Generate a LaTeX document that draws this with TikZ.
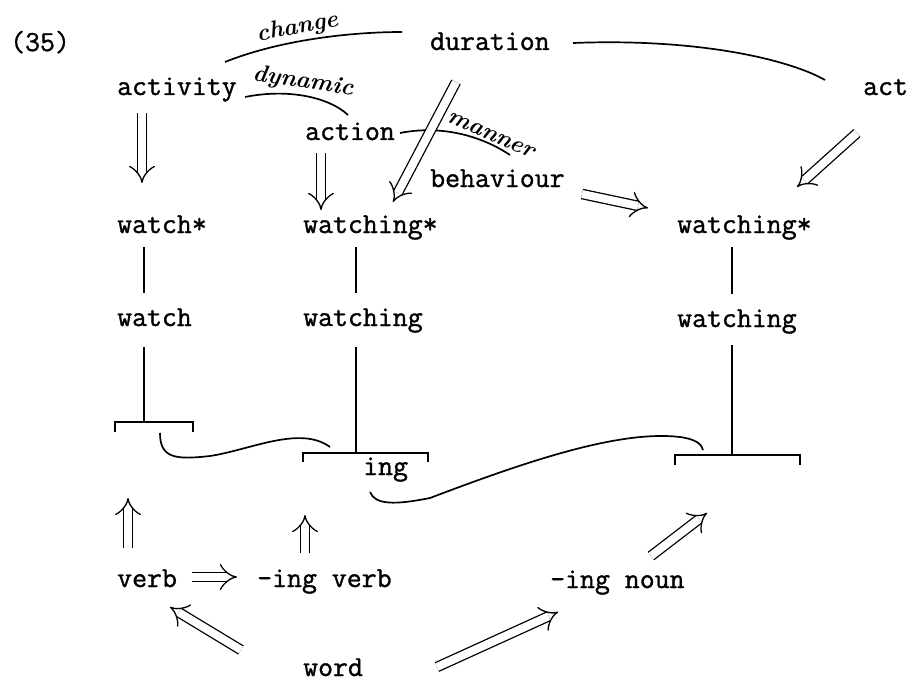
\documentclass[tikz,border=0pt]{standalone}
\usepackage{fontspec}
\usepackage{tikz}
\usetikzlibrary{arrows.meta,calc}
\newfontfamily\wgfont{Latin Modern Mono}[FakeBold=1.2]
\tikzset{
  wg word/.style={
    font=\fontsize{29}{32}\selectfont\wgfont,
    inner sep=0pt,
    anchor=base west,
    text height=17pt,
    text depth=6pt,
  },
  wg hand/.style={font=\fontsize{24}{28}\selectfont\bfseries\itshape, inner sep=0pt},
  wg isa/.style={double, double distance=8pt, line width=1.3pt, -{Implies}},
  wg line/.style={line width=1.3pt},
  wg link/.style={line width=1.7pt},
  wg stem/.style={line width=1.3pt, shorten <=8pt, shorten >=16pt},
}

\begin{document}
\begin{tikzpicture}[x=1pt,y=-1pt]
  \useasboundingbox (0,0) rectangle (913,682);

  \node[wg word] (num) at (10,51) {(35)};
  \node[wg word] (activity) at (117,95) {activity};
  \node[wg word] (duration) at (430,50) {duration};
  \node[wg word] (act) at (863,95) {act};
  \node[wg word] (action) at (305,140) {action};
  \node[wg word] (behaviour) at (430,187) {behaviour};

  \node[wg word] (watchS) at (117,233) {watch*};
  \node[wg word] (watchingSa) at (303,233) {watching*};
  \node[wg word] (watchingSb) at (677,233) {watching*};
  \node[wg word] (watch) at (117,326) {watch};
  \node[wg word] (watchingA) at (303,326) {watching};
  \node[wg word] (watchingB) at (677,327) {watching};

  \coordinate (brA) at (144,422);
  \coordinate (brB) at (356,453);
  \coordinate (brC) at (732,455);
  \node[wg word] (ing) at (363,475) {ing};

  \node[wg word] (verb) at (117,587) {verb};
  \node[wg word] (ingverb) at (257,587) {-ing verb};
  \node[wg word] (ingnoun) at (550,588) {-ing noun};
  \node[wg word, text depth=0pt] (word) at (303,676) {word};

  % stems and brackets
  \draw[wg stem] (watchS.south -| brA) -- (watch.north -| brA);
  \draw[wg stem] (watchingSa.south -| brB) -- (watchingA.north -| brB);
  \draw[wg stem] (watchingSb.south -| brC) -- (watchingB.north -| brC);
  \draw[wg line, shorten <=15pt] (watch.south -| brA) -- (brA);
  \draw[wg line, shorten <=15pt] (watchingA.south -| brB) -- (brB);
  \draw[wg line, shorten <=12pt] (watchingB.south -| brC) -- (brC);
  \draw[wg line] (brA) ++(-29,10) -- ++(0,-10) -- ++(78,0) -- ++(0,10);
  \draw[wg line] (brB) ++(-53,9) -- ++(0,-9) -- ++(125,0) -- ++(0,9);
  \draw[wg line] (brC) ++(-57,10) -- ++(0,-10) -- ++(125,0) -- ++(0,10);

  \draw[wg link] ($(brA)+(16,11)$) .. controls ($(brA)+(16,36)$) and ($(brA)+(31,38)$)
    .. ($(brA)+(66,34)$) .. controls ($(brB)+(-106,-3)$) and ($(brB)+(-56,-28)$) .. ($(brB)+(-26,-6)$);
  \draw[wg link] ($(ing.base west)+(7,17)$) .. controls ($(ing.base west)+(12,30)$) and ($(ing.base west)+(32,30)$)
    .. ($(ing.base west)+(67,23)$) .. controls ($(brC)+(-202,5)$) and ($(brC)+(-112,-25)$)
    .. ($(brC)+(-52,-18)$) .. controls ($(brC)+(-37,-16)$) and ($(brC)+(-30,-11)$) .. ($(brC)+(-29,-5)$);

  % labelled links
  \draw[wg link] ($(activity.base west)+(108,-33)$) .. controls ($(activity.base west)+(163,-55)$) and ($(duration.base west)+(-80,-18)$)
    .. node[wg hand, pos=0.42, above=2pt, sloped] {change} ($(duration.base west)+(-28,-18)$);
  \draw[wg link] ($(activity.base west)+(128,2)$) .. controls ($(activity.base west)+(173,-7)$) and ($(action.base west)+(25,-42)$)
    .. node[wg hand, pos=0.45, above=2pt, sloped] {dynamic} ($(action.base west)+(43,-25)$);
  \draw[wg link] ($(action.base west)+(95,-7)$) .. controls ($(action.base west)+(135,-15)$) and ($(behaviour.base west)+(50,-52)$)
    .. node[wg hand, pos=0.77, above=2pt, sloped] {manner} ($(behaviour.base west)+(80,-32)$);
  \draw[wg link] ($(duration.base west)+(143,-7)$) .. controls ($(duration.base west)+(270,-12)$) and ($(act.base west)+(-73,-35)$)
    .. ($(act.base west)+(-38,-15)$);

  % isa arrows
  \draw[wg isa] ($(activity.base west)+(25,18)$) -- ($(watchS.base west)+(25,-50)$);
  \draw[wg isa] ($(action.base west)+(16,13)$) -- ($(watchingSa.base west)+(18,-23)$);
  \draw[wg isa] ($(duration.base west)+(26,32)$) -- ($(watchingSa.base west)+(90,-31)$);
  \draw[wg isa] ($(act.base west)+(-6,38)$) -- ($(watchingSb.base west)+(120,-46)$);
  \draw[wg isa] ($(behaviour.base west)+(152,7)$) -- ($(watchingSb.base west)+(-29,-25)$);
  \draw[wg isa] ($(verb.base west)+(11,-39)$) -- ($(brA)+(-16,76)$);
  \draw[wg isa] ($(ingverb.base west)+(48,-34)$) -- ($(brB)+(-51,62)$);
  \draw[wg isa] ($(verb.base west)+(75,-10)$) -- ($(ingverb.base west)+(-20,-10)$);
  \draw[wg isa] ($(ingnoun.base west)+(101,-32)$) -- ($(brC)+(-25,58)$);
  \draw[wg isa] ($(word.base west)+(-62,-26)$) -- ($(verb.base west)+(53,20)$);
  \draw[wg isa] ($(word.base west)+(134,-9)$) -- ($(ingnoun.base west)+(8,24)$);
\end{tikzpicture}
\end{document}
